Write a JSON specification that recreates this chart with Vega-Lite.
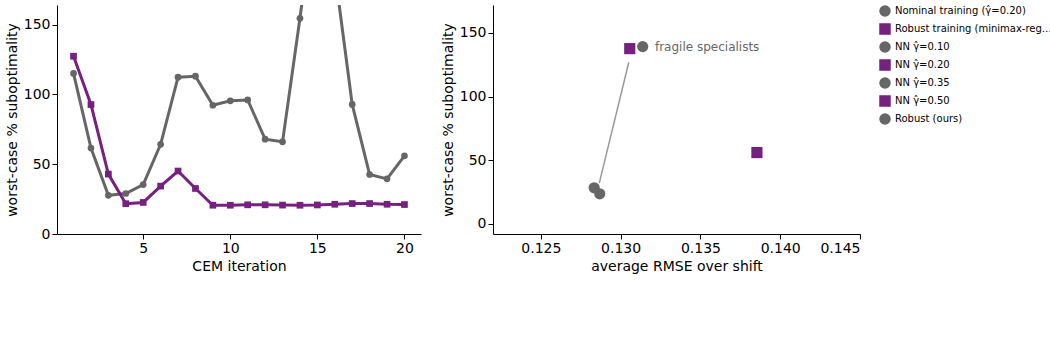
{
  "$schema": "https://vega.github.io/schema/vega-lite/v6.json",
  "config": {
    "font": "DejaVu Sans",
    "view": {"stroke": null},
    "axis": {"grid": false, "domainColor": "#000000", "tickColor": "#000000", "labelFontSize": 14, "titleFontSize": 14, "titleFontWeight": "normal"}
  },
  "hconcat": [
    {
      "width": 364,
      "height": 229,
      "data": {
        "values": [
          {"iter": 1, "val": 115, "series": "Nominal training (\u03b3\u0302=0.20)"},
          {"iter": 2, "val": 61.6, "series": "Nominal training (\u03b3\u0302=0.20)"},
          {"iter": 3, "val": 27.7, "series": "Nominal training (\u03b3\u0302=0.20)"},
          {"iter": 4, "val": 29, "series": "Nominal training (\u03b3\u0302=0.20)"},
          {"iter": 5, "val": 35.4, "series": "Nominal training (\u03b3\u0302=0.20)"},
          {"iter": 6, "val": 64.2, "series": "Nominal training (\u03b3\u0302=0.20)"},
          {"iter": 7, "val": 112.3, "series": "Nominal training (\u03b3\u0302=0.20)"},
          {"iter": 8, "val": 113, "series": "Nominal training (\u03b3\u0302=0.20)"},
          {"iter": 9, "val": 92.2, "series": "Nominal training (\u03b3\u0302=0.20)"},
          {"iter": 10, "val": 95.4, "series": "Nominal training (\u03b3\u0302=0.20)"},
          {"iter": 11, "val": 96, "series": "Nominal training (\u03b3\u0302=0.20)"},
          {"iter": 12, "val": 67.9, "series": "Nominal training (\u03b3\u0302=0.20)"},
          {"iter": 13, "val": 66, "series": "Nominal training (\u03b3\u0302=0.20)"},
          {"iter": 14, "val": 154.5, "series": "Nominal training (\u03b3\u0302=0.20)"},
          {"iter": 15, "val": 250, "series": "Nominal training (\u03b3\u0302=0.20)"},
          {"iter": 16, "val": 188, "series": "Nominal training (\u03b3\u0302=0.20)"},
          {"iter": 17, "val": 92.8, "series": "Nominal training (\u03b3\u0302=0.20)"},
          {"iter": 18, "val": 42.6, "series": "Nominal training (\u03b3\u0302=0.20)"},
          {"iter": 19, "val": 39.5, "series": "Nominal training (\u03b3\u0302=0.20)"},
          {"iter": 20, "val": 56, "series": "Nominal training (\u03b3\u0302=0.20)"},
          {"iter": 1, "val": 127.3, "series": "Robust training (minimax-regret)"},
          {"iter": 2, "val": 92.7, "series": "Robust training (minimax-regret)"},
          {"iter": 3, "val": 42.9, "series": "Robust training (minimax-regret)"},
          {"iter": 4, "val": 21.7, "series": "Robust training (minimax-regret)"},
          {"iter": 5, "val": 22.6, "series": "Robust training (minimax-regret)"},
          {"iter": 6, "val": 34.3, "series": "Robust training (minimax-regret)"},
          {"iter": 7, "val": 45.1, "series": "Robust training (minimax-regret)"},
          {"iter": 8, "val": 32.6, "series": "Robust training (minimax-regret)"},
          {"iter": 9, "val": 20.6, "series": "Robust training (minimax-regret)"},
          {"iter": 10, "val": 20.6, "series": "Robust training (minimax-regret)"},
          {"iter": 11, "val": 20.9, "series": "Robust training (minimax-regret)"},
          {"iter": 12, "val": 20.9, "series": "Robust training (minimax-regret)"},
          {"iter": 13, "val": 20.7, "series": "Robust training (minimax-regret)"},
          {"iter": 14, "val": 20.6, "series": "Robust training (minimax-regret)"},
          {"iter": 15, "val": 20.8, "series": "Robust training (minimax-regret)"},
          {"iter": 16, "val": 21.3, "series": "Robust training (minimax-regret)"},
          {"iter": 17, "val": 21.8, "series": "Robust training (minimax-regret)"},
          {"iter": 18, "val": 21.8, "series": "Robust training (minimax-regret)"},
          {"iter": 19, "val": 21.3, "series": "Robust training (minimax-regret)"},
          {"iter": 20, "val": 21.1, "series": "Robust training (minimax-regret)"}
        ]
      },
      "layer": [
        {
          "mark": {"type": "line", "strokeWidth": 3, "clip": true},
          "encoding": {
            "x": {"field": "iter", "type": "quantitative", "title": "CEM iteration",
                  "scale": {"domain": [0.05, 20.95], "nice": false, "zero": false},
                  "axis": {"values": [5, 10, 15, 20]}},
            "y": {"field": "val", "type": "quantitative", "title": "worst-case % suboptimality",
                  "scale": {"domain": [0, 164], "nice": false, "zero": false},
                  "axis": {"values": [0, 25, 50, 75, 100, 125, 150]}},
            "color": {
              "field": "series", "type": "nominal",
              "scale": {"domain": ["Nominal training (\u03b3\u0302=0.20)", "Robust training (minimax-regret)"], "range": ["#666666", "#76207f"]},
              "legend": {"title": null}
            }
          }
        },
        {
          "mark": {"type": "point", "filled": true, "opacity": 1, "size": 45, "clip": true},
          "encoding": {
            "x": {"field": "iter", "type": "quantitative"},
            "y": {"field": "val", "type": "quantitative"},
            "color": {"field": "series", "type": "nominal"},
            "shape": {"field": "series", "type": "nominal",
                      "scale": {"domain": ["Nominal training (\u03b3\u0302=0.20)", "Robust training (minimax-regret)"], "range": ["circle", "square"]},
                      "legend": null}
          }
        }
      ]
    },
    {
      "width": 367,
      "height": 229,
      "layer": [
        {
          "data": {"values": [{"x": 0.13051, "y": 127, "x2": 0.12866, "y2": 32}]},
          "mark": {"type": "rule", "color": "#999999", "strokeWidth": 1.5},
          "encoding": {
            "x": {"field": "x", "type": "quantitative", "title": "average RMSE over shift",
                  "scale": {"domain": [0.122, 0.145], "nice": false, "zero": false},
                  "axis": {"values": [0.125, 0.13, 0.135, 0.14, 0.145], "format": ".3f"}},
            "y": {"field": "y", "type": "quantitative", "title": "worst-case % suboptimality",
                  "scale": {"domain": [-8, 172], "nice": false, "zero": false},
                  "axis": {"values": [0, 50, 100, 150]}},
            "x2": {"field": "x2"},
            "y2": {"field": "y2"}
          }
        },
        {
          "data": {
            "values": [
              {"rmse": 0.12834, "worst": 28.3, "model": "NN \u03b3\u0302=0.10"},
              {"rmse": 0.13854, "worst": 56, "model": "NN \u03b3\u0302=0.20"},
              {"rmse": 0.13138, "worst": 139.3, "model": "NN \u03b3\u0302=0.35"},
              {"rmse": 0.13057, "worst": 137.7, "model": "NN \u03b3\u0302=0.50"},
              {"rmse": 0.12869, "worst": 23.6, "model": "Robust (ours)"}
            ]
          },
          "mark": {"type": "point", "filled": true, "opacity": 1, "size": 125},
          "encoding": {
            "x": {"field": "rmse", "type": "quantitative"},
            "y": {"field": "worst", "type": "quantitative"},
            "color": {
              "field": "model", "type": "nominal",
              "scale": {"domain": ["NN \u03b3\u0302=0.10", "NN \u03b3\u0302=0.20", "NN \u03b3\u0302=0.35", "NN \u03b3\u0302=0.50", "Robust (ours)"],
                        "range": ["#2b7bba", "#41b6c4", "#fdae4b", "#f03b20", "#76207f"]},
              "legend": {"title": null}
            },
            "shape": {"field": "model", "type": "nominal",
                      "scale": {"domain": ["NN \u03b3\u0302=0.10", "NN \u03b3\u0302=0.20", "NN \u03b3\u0302=0.35", "NN \u03b3\u0302=0.50", "Robust (ours)"],
                                "range": ["circle", "circle", "circle", "circle", "star"]},
              "legend": {"title": null}
            }
          }
        },
        {
          "data": {"values": [{"x": 0.13215, "y": 139.3, "label": "fragile specialists"}]},
          "mark": {"type": "text", "align": "left", "baseline": "middle", "fontSize": 12, "color": "#666666"},
          "encoding": {
            "x": {"field": "x", "type": "quantitative"},
            "y": {"field": "y", "type": "quantitative"},
            "text": {"field": "label"}
          }
        }
      ]
    }
  ]
}
